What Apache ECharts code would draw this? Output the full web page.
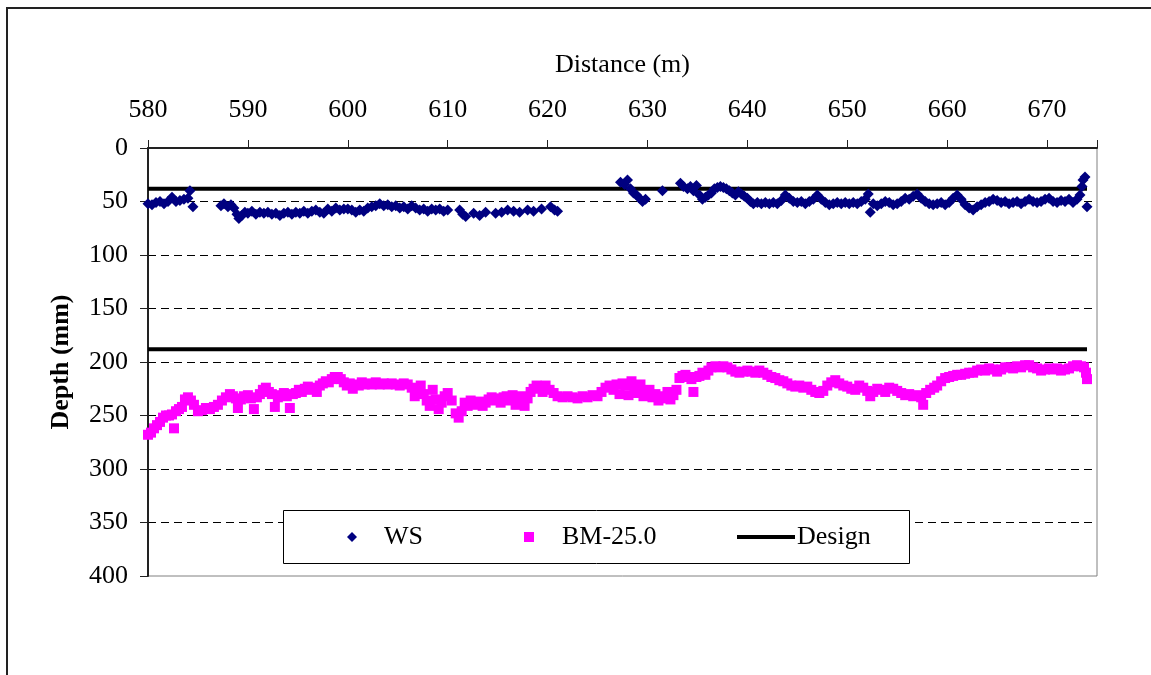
<!DOCTYPE html>
<html>
<head>
<meta charset="utf-8">
<title>Depth along distance</title>
<script src="https://cdn.jsdelivr.net/npm/echarts@6/dist/echarts.min.js"></script>
<style>
  html, body { margin: 0; padding: 0; background: #fff; }
  #chart { width: 1151px; height: 675px; }
</style>
</head>
<body>
<div id="chart"></div>
<script>
// Surface (WS) depth readings: [distance m, depth mm]
const wsPoints = [
  [580.0,52],[580.4,53],[580.8,51],[581.2,50],[581.6,52],[582.0,50],[582.4,46],[582.8,50],[583.2,49],[583.6,48],
  [584.0,47],[584.2,40],[584.5,55],
  [587.3,54],[587.6,52],[588.0,55],[588.3,53],[588.6,56],[588.9,62],[589.1,66],[589.4,63],[589.7,60],[590.0,61],
  [590.4,59],[590.8,62],[591.2,60],[591.6,61],[592.0,60],[592.4,62],[592.8,61],[593.2,63],[593.6,61],[594.0,60],
  [594.4,62],[594.8,60],[595.2,61],[595.6,59],[596.0,61],[596.4,59],[596.8,58],[597.2,60],[597.6,61],[598.0,57],
  [598.4,59],[598.8,56],[599.2,58],[599.6,57],[600.0,57],[600.4,58],[600.8,60],[601.2,58],[601.6,59],[602.0,56],
  [602.4,55],[602.8,54],[603.2,52],[603.6,54],[604.0,53],[604.4,55],[604.8,54],[605.2,56],[605.6,55],[606.0,57],
  [606.4,54],[606.8,56],[607.2,58],[607.6,57],[608.0,59],[608.4,57],[608.8,58],[609.2,57],[609.6,59],[610.0,58],
  [611.2,58],[611.5,62],[611.8,64],[612.6,61],[613.2,63],[613.8,60],[614.8,61],[615.4,60],[616.0,58],[616.6,59],
  [617.2,60],[618.0,58],[618.6,59],[619.4,57],[620.3,55],[620.7,58],[621.0,59],
  [627.3,32],[627.7,34],[628.0,30],[628.3,38],[628.6,42],[628.9,44],[629.2,47],[629.5,50],[629.8,48],[631.5,40],
  [633.3,33],[633.6,36],[634.0,38],[634.3,36],[634.6,40],[634.9,35],[635.2,44],[635.5,48],[635.8,46],[636.1,44],
  [636.4,42],[636.7,38],[637.0,37],[637.3,36],[637.6,37],[637.9,38],[638.2,40],[638.5,42],[638.8,44],[639.1,41],
  [639.4,43],[639.7,45],[640.0,47],[640.3,50],[640.6,52],[641.0,51],[641.4,52],[641.8,51],[642.2,52],[642.6,51],
  [643.0,52],[643.4,49],[643.8,44],[644.2,47],[644.6,50],[645.0,51],[645.4,50],[645.8,52],[646.2,50],[646.6,48],
  [647.0,44],[647.4,48],[647.8,51],[648.2,53],[648.6,52],[649.0,51],[649.4,52],[649.8,51],[650.2,52],[650.6,51],
  [651.0,52],[651.4,50],[651.8,48],[652.1,43],[652.3,60],[652.6,52],[653.0,54],[653.4,52],[653.8,50],[654.2,51],
  [654.6,53],[655.0,52],[655.4,50],[655.8,47],[656.2,48],[656.6,45],[657.0,43],[657.4,47],[657.8,50],[658.2,52],
  [658.6,53],[659.0,52],[659.4,51],[659.8,53],[660.2,51],[660.6,47],[661.0,44],[661.4,48],[661.8,53],[662.2,56],
  [662.6,58],[663.0,55],[663.4,53],[663.8,51],[664.2,50],[664.6,48],[665.0,49],[665.4,51],[665.8,50],[666.2,52],
  [666.6,51],[667.0,50],[667.4,52],[667.8,50],[668.2,48],[668.6,50],[669.0,51],[669.4,50],[669.8,48],[670.2,47],
  [670.6,50],[671.0,51],[671.4,49],[671.8,50],[672.2,48],[672.6,51],[673.0,48],[673.3,44],[673.5,36],[673.6,30],
  [673.8,27],[674.0,55]
];

// Base mix (BM-25.0) depth readings: [distance m, depth mm]
const bmPoints = [
  [580.0,268],[580.3,266],[580.6,262],[580.9,259],[581.2,256],[581.5,252],[581.8,250],[582.1,250],[582.4,249],[582.6,262],
  [582.8,246],[583.1,244],[583.4,242],[583.7,235],[584.0,233],[584.3,236],[584.6,240],[585.0,246],[585.4,245],[585.8,243],
  [586.2,244],[586.6,242],[587.0,240],[587.4,236],[587.8,233],[588.2,230],[588.5,232],[588.8,234],[589.0,243],[589.3,235],
  [589.6,232],[590.0,231],[590.3,234],[590.6,244],[590.9,233],[591.2,230],[591.5,226],[591.8,224],[592.1,228],[592.4,230],
  [592.7,242],[593.0,233],[593.3,231],[593.6,229],[593.9,232],[594.2,243],[594.5,230],[594.8,229],[595.1,226],[595.4,228],
  [595.7,225],[596.0,223],[596.3,226],[596.6,224],[596.9,228],[597.2,222],[597.5,220],[597.8,218],[598.1,219],[598.4,216],
  [598.7,214],[599.0,214],[599.3,216],[599.6,219],[599.9,222],[600.2,220],[600.5,225],[600.8,221],[601.1,222],[601.4,219],
  [601.7,221],[602.0,220],[602.4,221],[602.8,219],[603.2,221],[603.6,220],[604.0,221],[604.4,220],[604.8,221],[605.2,222],
  [605.6,220],[606.0,221],[606.4,224],[606.7,232],[607.0,228],[607.3,222],[607.6,230],[607.9,236],[608.2,241],[608.5,226],
  [608.8,235],[609.1,244],[609.4,238],[609.7,232],[610.0,229],[610.4,236],[610.8,248],[611.1,252],[611.4,246],[611.7,238],
  [612.0,241],[612.3,236],[612.6,240],[612.9,238],[613.2,237],[613.5,241],[613.8,238],[614.1,235],[614.4,233],[614.7,236],
  [615.0,234],[615.3,238],[615.6,233],[615.9,232],[616.2,236],[616.5,231],[616.8,240],[617.1,238],[617.4,232],[617.7,241],
  [618.0,234],[618.3,228],[618.6,225],[618.9,222],[619.2,224],[619.5,228],[619.8,222],[620.2,226],[620.6,229],[621.0,232],
  [621.5,233],[622.0,232],[622.5,233],[623.0,234],[623.5,232],[624.0,233],[624.5,231],[625.0,232],[625.4,228],[625.8,224],
  [626.2,222],[626.6,226],[626.9,221],[627.2,230],[627.5,220],[627.8,222],[628.1,231],[628.4,218],[628.7,224],[629.0,229],
  [629.3,221],[629.6,232],[629.9,228],[630.2,226],[630.5,233],[630.8,230],[631.1,236],[631.4,232],[631.7,234],[632.0,228],
  [632.3,235],[632.6,231],[632.9,226],[633.2,215],[633.5,213],[633.8,212],[634.1,214],[634.4,216],[634.6,228],[634.9,214],
  [635.2,213],[635.5,210],[635.8,212],[636.1,208],[636.4,205],[636.8,204],[637.2,205],[637.6,204],[638.0,205],[638.4,207],
  [638.8,209],[639.2,210],[639.6,209],[640.0,208],[640.4,209],[640.8,210],[641.2,208],[641.6,210],[642.0,212],[642.4,214],
  [642.8,215],[643.2,217],[643.6,218],[644.0,220],[644.4,222],[644.8,223],[645.2,222],[645.6,224],[646.0,223],[646.4,226],
  [646.8,228],[647.2,229],[647.6,227],[648.0,222],[648.4,219],[648.8,217],[649.2,220],[649.6,222],[650.0,223],[650.4,225],
  [650.8,226],[651.2,222],[651.6,224],[652.0,227],[652.3,232],[652.6,228],[653.0,225],[653.4,226],[653.8,228],[654.2,224],
  [654.6,225],[655.0,227],[655.4,229],[655.8,231],[656.2,230],[656.6,232],[657.0,231],[657.4,233],[657.6,240],[657.9,229],
  [658.3,226],[658.7,224],[659.0,222],[659.4,218],[659.8,215],[660.2,214],[660.6,213],[661.0,212],[661.4,212],[661.8,211],
  [662.2,210],[662.6,210],[663.0,208],[663.4,207],[663.8,208],[664.2,206],[664.6,207],[665.0,209],[665.4,207],[665.8,205],
  [666.2,205],[666.6,206],[667.0,204],[667.4,205],[667.8,203],[668.2,203],[668.6,205],[669.0,206],[669.4,208],[669.8,207],
  [670.2,206],[670.6,207],[671.0,206],[671.4,208],[671.8,207],[672.2,206],[672.6,204],[673.0,203],[673.4,204],[673.7,205],
  [673.9,210],[674.0,216]
];

// Design depths (mm) and the distance span they cover (m)
const designDepths = [38, 188];
const designSpan = [580, 674];

// Axis ranges
const xRange = [580, 675];
const yRange = [0, 400];

const serif = '"Liberation Serif", "Times New Roman", serif';
const legendText = { fontFamily: serif, fontSize: 26, color: '#000' };

const designSeries = designDepths.map((depth) => ({
  name: 'Design',
  type: 'line',
  z: 1,
  symbol: 'none',
  showSymbol: false,
  silent: true,
  lineStyle: { color: '#000', width: 4 },
  itemStyle: { color: '#000' },
  data: designSpan.map((d) => [d, depth])
}));

const chart = echarts.init(document.getElementById('chart'), null, { renderer: 'canvas' });

chart.setOption({
  animation: false,
  backgroundColor: '#fff',
  textStyle: { fontFamily: serif, color: '#000' },
  grid: {
    left: 148, top: 148, width: 949, height: 428,
    show: true, borderColor: '#808080', borderWidth: 1, backgroundColor: 'transparent'
  },
  graphic: [
    {
      // outer frame of the figure
      type: 'rect', z: -1, silent: true,
      shape: { x: 7, y: 8, width: 1200, height: 720 },
      style: { fill: 'none', stroke: '#222', lineWidth: 2 }
    },
    {
      // legend box
      type: 'rect', z: 3, silent: true,
      shape: { x: 283.5, y: 510.5, width: 626, height: 53 },
      style: { fill: '#fff', stroke: '#000', lineWidth: 1 }
    }
  ],
  legend: [
    {
      left: 347, top: 524, padding: 0, selectedMode: false,
      itemWidth: 10, itemHeight: 10,
      textStyle: Object.assign({ padding: [0, 0, 0, 22] }, legendText),
      data: [{ name: 'WS', icon: 'diamond' }]
    },
    {
      left: 524, top: 524, padding: 0, selectedMode: false,
      itemWidth: 10, itemHeight: 10,
      textStyle: Object.assign({ padding: [0, 0, 0, 23] }, legendText),
      data: [{ name: 'BM-25.0', icon: 'rect' }]
    },
    {
      left: 737, top: 524, padding: 0, selectedMode: false,
      itemWidth: 58, itemHeight: 4,
      textStyle: Object.assign({ padding: [0, 0, 0, -3] }, legendText),
      data: [{ name: 'Design', icon: 'rect' }]
    }
  ],
  xAxis: {
    type: 'value', position: 'top',
    min: xRange[0], max: xRange[1], interval: 10,
    name: 'Distance (m)', nameLocation: 'middle', nameGap: 70,
    nameTextStyle: { fontFamily: serif, fontSize: 26, color: '#000' },
    axisLine: { show: true, lineStyle: { color: '#222', width: 2 } },
    axisTick: { show: true, inside: false, length: 8, lineStyle: { color: '#222', width: 1 } },
    axisLabel: {
      margin: 25, fontFamily: serif, fontSize: 26, color: '#000',
      formatter: (v) => (Math.round(v) % 10 === 0 ? String(v) : '')
    },
    splitLine: { show: false }
  },
  yAxis: {
    type: 'value', inverse: true,
    min: yRange[0], max: yRange[1], interval: 50,
    name: 'Depth (mm)', nameLocation: 'middle', nameGap: 74, nameRotate: 90,
    nameTextStyle: { fontFamily: serif, fontSize: 26, fontWeight: 'bold', color: '#000' },
    axisLine: { show: true, lineStyle: { color: '#222', width: 2 } },
    axisTick: { show: true, inside: false, length: 8, lineStyle: { color: '#222', width: 1 } },
    axisLabel: { margin: 20, fontFamily: serif, fontSize: 26, color: '#000' },
    splitLine: {
      show: true, showMinLine: false, showMaxLine: false,
      lineStyle: { color: '#000', width: 1, type: [8, 5] }
    }
  },
  series: [
    {
      name: 'WS', type: 'scatter', symbol: 'diamond', symbolSize: 11,
      itemStyle: { color: '#000080', opacity: 1 },
      data: wsPoints
    },
    {
      name: 'BM-25.0', type: 'scatter', symbol: 'rect', symbolSize: 10,
      itemStyle: { color: '#FF00FF', opacity: 1 },
      data: bmPoints
    }
  ].concat(designSeries)
});
</script>
</body>
</html>
